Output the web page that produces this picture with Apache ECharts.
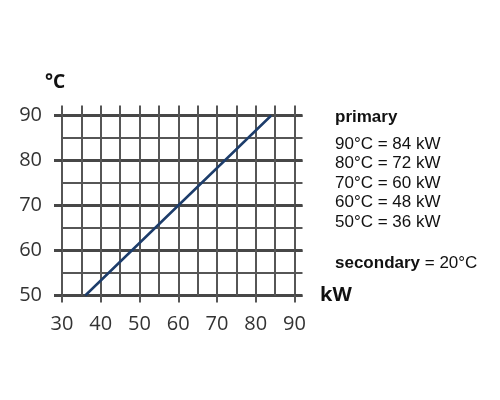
<!DOCTYPE html>
<html>
<head>
<meta charset="utf-8">
<script src="https://cdn.jsdelivr.net/npm/echarts@6/dist/echarts.min.js"></script>
<style>
html,body{margin:0;padding:0;background:#fff;}
#c{width:500px;height:400px;}
</style>
</head>
<body>
<div id="c"></div>
<script>
// Data
var primaryTemps = [90, 80, 70, 60, 50];      // °C
var primaryKW = [84, 72, 60, 48, 36];         // kW
var secondaryTemp = 20;                       // °C
var xTicks = [30, 40, 50, 60, 70, 80, 90];    // kW
var yTicks = [50, 60, 70, 80, 90];            // °C

var lineData = primaryKW.map(function (k, i) { return [k, primaryTemps[i]]; })
  .sort(function (a, b) { return a[0] - b[0]; });

var grid = '#565656';
var major = '#474747';
var chart = echarts.init(document.getElementById('c'), null, {renderer: 'canvas'});

var texts = [];
var rowY = [144, 163.5, 183, 202.5, 222.5];
var sans = '"Liberation Sans", Arial, sans-serif';
texts.push({type: 'text', x: 335, y: 117, style: {text: 'primary', fill: '#111', font: 'bold 17px ' + sans, align: 'left', verticalAlign: 'middle'}});
primaryTemps.forEach(function (t, i) {
  texts.push({type: 'text', x: 335, y: rowY[i], style: {text: t + '°C = ' + primaryKW[i] + ' kW', fill: '#111', font: '17px ' + sans, align: 'left', verticalAlign: 'middle'}});
});
texts.push({type: 'text', x: 335, y: 263, style: {text: '{b|secondary} = ' + secondaryTemp + '°C', fill: '#111', font: '17px ' + sans, align: 'left', verticalAlign: 'middle',
  rich: {b: {font: 'bold 17px ' + sans, fill: '#111'}}}});
texts.push({type: 'text', x: 320, y: 295, style: {text: 'kW', fill: '#111', font: 'bold 20px "Noto Sans", sans-serif', align: 'left', verticalAlign: 'middle'}});
texts.push({type: 'text', x: 45, y: 83, style: {text: '°C', fill: '#111', font: 'bold 19px "Noto Sans", sans-serif', align: 'left', verticalAlign: 'middle'}});

var xMin = xTicks[0], xMax = xTicks[xTicks.length - 1];
var yMin = yTicks[0], yMax = yTicks[yTicks.length - 1];

chart.setOption({
  animation: false,
  backgroundColor: '#fff',
  grid: {left: 62, right: 205.5, top: 115.5, bottom: 104.5, containLabel: false},
  xAxis: [
    {
      type: 'value', min: xMin, max: xMax, interval: 10, position: 'bottom',
      axisLine: {show: false},
      axisTick: {show: true, length: 7, lineStyle: {color: grid, width: 2}},
      axisLabel: {color: '#333', fontSize: 20, fontFamily: '"Open Sans", sans-serif', margin: 19},
      splitLine: {show: true, lineStyle: {color: grid, width: 2}},
      minorTick: {show: false, splitNumber: 2},
      minorSplitLine: {show: true, lineStyle: {color: grid, width: 2}}
    },
    {
      type: 'value', min: xMin, max: xMax, interval: 5, position: 'top',
      axisLine: {show: false},
      axisTick: {show: true, length: 10, lineStyle: {color: grid, width: 2}},
      axisLabel: {show: false},
      splitLine: {show: false}
    }
  ],
  yAxis: [
    {
      type: 'value', min: yMin, max: yMax, interval: 10, position: 'left',
      axisLine: {show: false},
      axisTick: {show: true, length: 8, lineStyle: {color: major, width: 3}},
      axisLabel: {color: '#333', fontSize: 20, fontFamily: '"Open Sans", sans-serif', margin: 20},
      splitLine: {show: true, lineStyle: {color: major, width: 3}},
      minorTick: {show: false, splitNumber: 2},
      minorSplitLine: {show: true, lineStyle: {color: grid, width: 2}}
    },
    {
      type: 'value', min: yMin, max: yMax, interval: 5, position: 'right',
      axisLine: {show: false},
      axisTick: {show: true, length: 8, lineStyle: {color: grid, width: 2}},
      axisLabel: {show: false},
      splitLine: {show: false}
    },
    {
      type: 'value', min: yMin, max: yMax, interval: 10, position: 'right',
      axisLine: {show: false},
      axisTick: {show: true, length: 8, lineStyle: {color: major, width: 3}},
      axisLabel: {show: false},
      splitLine: {show: false}
    }
  ],
  series: [{
    type: 'line', xAxisIndex: 0, yAxisIndex: 0,
    data: lineData, symbol: 'none', z: 10,
    lineStyle: {color: '#1d3d6b', width: 2.5}
  }],
  graphic: texts
});
</script>
</body>
</html>
